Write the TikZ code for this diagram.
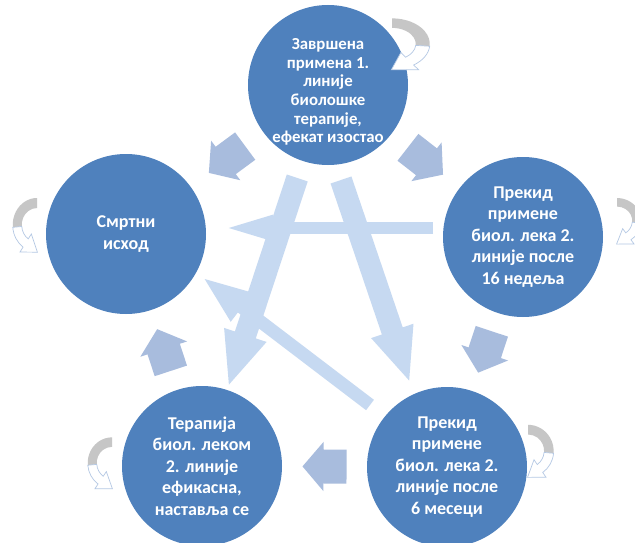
\documentclass[tikz,border=0pt]{standalone}
\usepackage{fontspec}
\setmainfont{Carlito}
\usetikzlibrary{calc,arrows.meta}

\definecolor{stageblue}{RGB}{79,129,189}
\definecolor{cyclearrow}{RGB}{168,188,221}
\definecolor{crossarrow}{RGB}{198,217,241}
\definecolor{loopedge}{RGB}{180,200,228}

% small turn-back arrow beside a stage: position, xscale, yscale
\newcommand{\selfloop}[3]{%
  \begin{scope}[shift={#1}, xscale=#2, yscale=#3]
    \fill[gray!45] (90:27) arc[start angle=90, end angle=-5, radius=27]
      -- (-5:17) arc[start angle=-5, end angle=90, radius=17] -- cycle;
    \filldraw[fill=white, draw=loopedge, line width=0.7pt]
      (-5:27) arc[start angle=-5, end angle=-55, radius=27]
      -- (-55:33) -- ($(-55:22)+(-145:16)$) -- (-55:11)
      -- (-55:17) arc[start angle=-55, end angle=-5, radius=17] -- cycle;
  \end{scope}}

\begin{document}
\begin{tikzpicture}[x=1pt, y=1pt,
  stage/.style={circle, fill=stageblue, minimum size=160pt, inner sep=0pt,
    text=white, align=center, font=\bfseries\fontsize{18}{21.5}\selectfont},
  cycle arrow/.style={draw=cyclearrow, line width=34pt,
    -{Triangle[length=21pt, width=48pt]}},
  cross arrow/.style={draw=crossarrow, line width=22pt,
    -{Triangle[length=55pt, width=40pt]}}]

\useasboundingbox[fill=white] (0,0) rectangle (635,-543);

% the top stage has six lines, set tighter and a little lower
\node[stage, font=\bfseries\fontsize{16.8}{18.6}\selectfont, text height=118pt,
  inner sep=-8pt] (top) at (328,-85)
  {Завршена\\примена 1.\\линије\\биолошке\\терапије,\\ефекат изостао};
\node[stage] (left) at (126,-234) {Смртни\\исход};
\node[stage] (right) at (523,-237)
  {Прекид\\примене\\биол. лека 2.\\линије после\\16 недеља};
\node[stage] (botleft) at (202,-466)
  {Терапија\\биол. леком\\2. линије\\ефикасна,\\наставља се};
\node[stage] (botright) at (447,-467)
  {Прекид\\примене\\биол. лека 2.\\линије после\\6 месеци};

% arrows across the middle
\draw[cross arrow] ($(top)!0.244!(botleft)$) -- ($(top)!0.793!(botleft)$);
\draw[cross arrow] ($(top)+(13,-95)$) -- ($(botright)+(-37,84)$);
\draw[cross arrow, line width=12pt, -{Triangle[length=53pt, width=22pt]}]
  ($(right)+(-90,9)$) -- ($(left)+(94,6)$);
\draw[cross arrow, line width=13pt, -{Triangle[length=50pt, width=32pt]}]
  ($(botright)+(-77,62)$) -- ($(left)+(76,-43)$);

% arrows round the ring
\draw[cycle arrow] ($(top)!0.41!(left)$) -- ($(top)!0.59!(left)$);
\draw[cycle arrow] ($(top)!0.41!(right)$) -- ($(top)!0.59!(right)$);
\draw[cycle arrow] ($(right)!0.41!(botright)$) -- ($(right)!0.59!(botright)$);
\draw[cycle arrow] ($(botright)!0.41!(botleft)$) -- ($(botright)!0.59!(botleft)$);
\draw[cycle arrow] ($(botleft)!0.41!(left)$) -- ($(botleft)!0.59!(left)$);

\selfloop{(392,-44)}{1.4}{0.95}
\selfloop{(37,-225)}{-0.9}{1}
\selfloop{(617,-221)}{0.9}{0.85}
\selfloop{(112,-463)}{-0.9}{0.95}
\selfloop{(528,-451)}{0.95}{0.97}
\end{tikzpicture}
\end{document}
